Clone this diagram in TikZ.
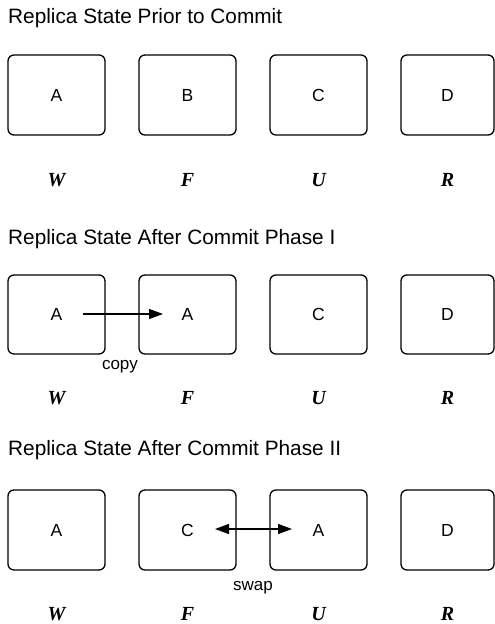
\documentclass[tikz,border=0pt]{standalone}
\usepackage{fontspec}
\setmainfont{Liberation Sans}
\newfontfamily\lblfont{Liberation Serif}
\usetikzlibrary{arrows.meta}
\begin{document}
\begin{tikzpicture}[x=1pt,y=-1pt,
  regbox/.style={draw, line width=1.3pt, rounded corners=6pt, inner sep=0pt,
    minimum height=80pt, font=\fontsize{17.5}{19}\selectfont},
  ttl/.style={anchor=base west, inner sep=0pt, font=\fontsize{20.8}{24}\selectfont},
  rlbl/.style={inner sep=0pt, font=\lblfont\bfseries\itshape\fontsize{20}{22}\selectfont},
  elbl/.style={inner sep=0pt, font=\fontsize{17}{19}\selectfont},
  conn/.style={line width=1.3pt, -{Triangle[length=14pt,width=10pt]}},
  dconn/.style={line width=1.3pt, {Triangle[length=14pt,width=10pt]}-{Triangle[length=14pt,width=10pt]}}]
\useasboundingbox (0,0) rectangle (495,624);

% Row 1
\node[ttl] (t1) at (8,23.5) {Replica State Prior to Commit};
\node[regbox, minimum width=97pt] (a1) at (56.5,95) {A};
\node[regbox, minimum width=97pt] (b1) at (187.5,95) {B};
\node[regbox, minimum width=97pt] (c1) at (318.5,95) {C};
\node[regbox, minimum width=93pt] (d1) at (447.5,95) {D};
\node[rlbl] (w1) at (56.5,180) {W};
\node[rlbl] (f1) at (187.5,180) {F};
\node[rlbl] (u1) at (318.5,180) {U};
\node[rlbl] (r1) at (447.5,180) {R};

% Row 2
\node[ttl] (t2) at (8,244.5) {Replica State After Commit Phase I};
\node[regbox, minimum width=97pt, minimum height=79pt] (a2) at (56.5,314.5) {A};
\node[regbox, minimum width=97pt, minimum height=79pt] (b2) at (187.5,314.5) {A};
\node[regbox, minimum width=97pt, minimum height=79pt] (c2) at (318.5,314.5) {C};
\node[regbox, minimum width=93pt, minimum height=79pt] (d2) at (447.5,314.5) {D};
\node[rlbl] (w2) at (56.5,398) {W};
\node[rlbl] (f2) at (187.5,398) {F};
\node[rlbl] (u2) at (318.5,398) {U};
\node[rlbl] (r2) at (447.5,398) {R};
\coordinate (cpS) at (83,314);
\coordinate (cpE) at (163,314);
\draw[conn] (cpS) -- (cpE);
\node[elbl] (copy) at (120,367) {copy};

% Row 3
\node[ttl] (t3) at (8,455.5) {Replica State After Commit Phase II};
\node[regbox, minimum width=97pt] (a3) at (56.5,530) {A};
\node[regbox, minimum width=97pt] (b3) at (187.5,530) {C};
\node[regbox, minimum width=97pt] (c3) at (318.5,530) {A};
\node[regbox, minimum width=93pt] (d3) at (447.5,530) {D};
\node[rlbl] (w3) at (56.5,614) {W};
\node[rlbl] (f3) at (187.5,614) {F};
\node[rlbl] (u3) at (318.5,614) {U};
\node[rlbl] (r3) at (447.5,614) {R};
\coordinate (swS) at (215,529);
\coordinate (swE) at (292,529);
\draw[dconn] (swS) -- (swE);
\node[elbl] (swap) at (253,588) {swap};
\end{tikzpicture}
\end{document}
